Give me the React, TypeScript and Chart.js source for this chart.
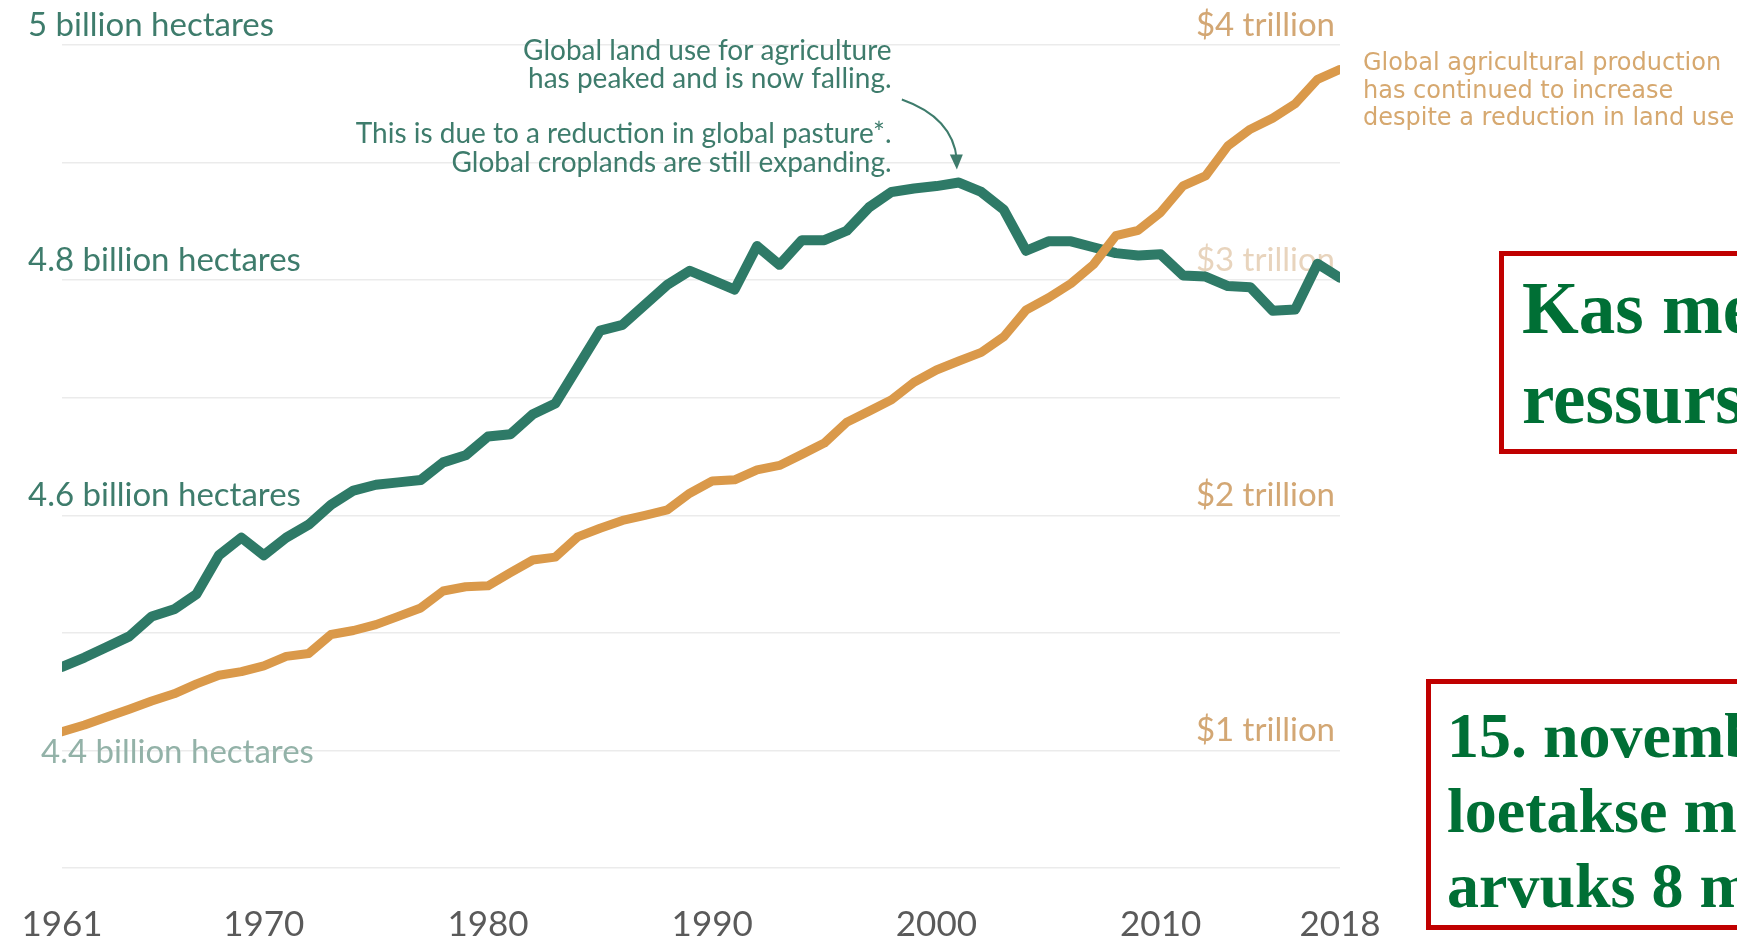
import React, { useEffect, useRef } from "react";
import { Chart, registerables } from "chart.js";

Chart.register(...registerables);

// ---------- DATA ----------
const years = [
  1961, 1962, 1963, 1964, 1965, 1966, 1967, 1968, 1969, 1970,
  1971, 1972, 1973, 1974, 1975, 1976, 1977, 1978, 1979, 1980,
  1981, 1982, 1983, 1984, 1985, 1986, 1987, 1988, 1989, 1990,
  1991, 1992, 1993, 1994, 1995, 1996, 1997, 1998, 1999, 2000,
  2001, 2002, 2003, 2004, 2005, 2006, 2007, 2008, 2009, 2010,
  2011, 2012, 2013, 2014, 2015, 2016, 2017, 2018,
];

// Global land use for agriculture (billion hectares)
const landUse = [
  4.471, 4.479, 4.488, 4.497, 4.514, 4.52, 4.533, 4.566, 4.581, 4.566,
  4.581, 4.592, 4.609, 4.621, 4.626, 4.628, 4.63, 4.645, 4.651, 4.667,
  4.669, 4.686, 4.695, 4.726, 4.757, 4.762, 4.779, 4.796, 4.808, 4.8,
  4.792, 4.829, 4.813, 4.834, 4.834, 4.842, 4.862, 4.875, 4.878, 4.88,
  4.883, 4.875, 4.86, 4.825, 4.833, 4.833, 4.828, 4.823, 4.821, 4.822,
  4.804, 4.803, 4.795, 4.794, 4.774, 4.775, 4.814, 4.802,
];

// Global agricultural production (trillion $)
const production = [
  1.08, 1.108, 1.142, 1.175, 1.21, 1.241, 1.283, 1.32, 1.335, 1.36,
  1.4, 1.412, 1.493, 1.51, 1.535, 1.57, 1.606, 1.678, 1.696, 1.7,
  1.756, 1.81, 1.822, 1.908, 1.945, 1.978, 2.0, 2.023, 2.094, 2.146,
  2.151, 2.193, 2.212, 2.259, 2.307, 2.396, 2.443, 2.491, 2.566, 2.618,
  2.656, 2.693, 2.759, 2.873, 2.925, 2.986, 3.066, 3.189, 3.212, 3.288,
  3.401, 3.443, 3.571, 3.642, 3.689, 3.75, 3.854, 3.896,
];

const xTickYears = [1961, 1970, 1980, 1990, 2000, 2010, 2018];

const leftTickValues = [5.0, 4.8, 4.6, 4.4];
const leftTickLabels = [
  "5 billion hectares",
  "4.8 billion hectares",
  "4.6 billion hectares",
  "4.4 billion hectares",
];

const rightTickValues = [4, 3, 2, 1];
const rightTickLabels = ["$4 trillion", "$3 trillion", "$2 trillion", "$1 trillion"];

const peakYear = 2001;

const landNoteLines = [
  "Global land use for agriculture",
  "has peaked and is now falling.",
];
const pastureNoteLines = [
  "This is due to a reduction in global pasture*.",
  "Global croplands are still expanding.",
];
const productionNoteLines = [
  "Global agricultural production",
  "has continued to increase",
  "despite a reduction in land use",
];

const box1Lines = ["Kas meil jätkub", "ressursse?"];
const box2Lines = ["15. novembril 2022", "loetakse maailma rahva-", "arvuks 8 miljardit."];

// ---------- STYLES ----------
const GREEN = "#2e7a67";
const ORANGE = "#da994a";
const GREEN_TEXT = "#3e7c6c";
const rightLabelColors = ["#d3a774", "#e8d4bd", "#d3a774", "#d3a774"];
const leftLabelColors = [GREEN_TEXT, GREEN_TEXT, GREEN_TEXT, "#93b2a8"];

const labelsPlugin = {
  id: "owidLabels",
  beforeDatasetsDraw(chart: any) {
    const { ctx, chartArea, scales } = chart;
    const y = scales.y;
    const y1 = scales.y1;
    ctx.save();
    ctx.font = "33px Lato";
    ctx.textBaseline = "alphabetic";
    leftTickValues.forEach((v, i) => {
      const py = y.getPixelForValue(v);
      const last = i === leftTickValues.length - 1;
      ctx.fillStyle = leftLabelColors[i];
      ctx.textAlign = "left";
      ctx.fillText(
        leftTickLabels[i],
        chartArea.left - 34 + (last ? 13 : 0),
        last ? py + 13 : py - 9
      );
    });
    rightTickValues.forEach((v, i) => {
      const py = y1.getPixelForValue(v);
      ctx.fillStyle = rightLabelColors[i];
      ctx.textAlign = "right";
      ctx.fillText(rightTickLabels[i], chartArea.right - 5, py - 9);
    });
    ctx.restore();
  },
  afterDatasetsDraw(chart: any) {
    const { ctx, chartArea, scales } = chart;
    const x = scales.x;
    const y = scales.y;
    const top = y.getPixelForValue(5.0);
    ctx.save();
    // land-use notes
    ctx.font = "28px Lato";
    ctx.fillStyle = GREEN_TEXT;
    ctx.textAlign = "right";
    ctx.textBaseline = "alphabetic";
    const noteX = x.getPixelForValue(1998);
    landNoteLines.forEach((t, i) => ctx.fillText(t, noteX, top + 15 + i * 27.5));
    pastureNoteLines.forEach((t, i) => ctx.fillText(t, noteX, top + 98 + i * 29));

    // arrow to the peak
    const pi = years.indexOf(peakYear);
    const tipX = x.getPixelForValue(peakYear) - 2;
    const tipY = y.getPixelForValue(landUse[pi]) - 13;
    const sx = tipX - 55;
    const sy = tipY - 70;
    ctx.strokeStyle = GREEN_TEXT;
    ctx.fillStyle = GREEN_TEXT;
    ctx.lineWidth = 2;
    ctx.beginPath();
    ctx.moveTo(sx, sy);
    ctx.quadraticCurveTo(tipX - 4, sy + 18, tipX, tipY - 10);
    ctx.stroke();
    ctx.beginPath();
    ctx.moveTo(tipX, tipY);
    ctx.lineTo(tipX - 7, tipY - 15);
    ctx.lineTo(tipX + 6, tipY - 15);
    ctx.closePath();
    ctx.fill();

    // production note
    ctx.font = "24px 'DejaVu Sans'";
    ctx.fillStyle = "#d6a86f";
    ctx.textAlign = "left";
    const px = chartArea.right + 23;
    productionNoteLines.forEach((t, i) => ctx.fillText(t, px, top + 25 + i * 27.5));
    ctx.restore();
  },
};

export default function App() {
  const canvasRef = useRef<HTMLCanvasElement | null>(null);

  useEffect(() => {
    const canvas = canvasRef.current;
    if (!canvas) return;
    const chart = new Chart(canvas, {
      type: "line",
      data: {
        datasets: [
          {
            label: "Global agricultural production",
            data: years.map((yr, i) => ({ x: yr, y: production[i] })),
            yAxisID: "y1",
            borderColor: ORANGE,
            borderWidth: 9,
            pointRadius: 0,
            borderCapStyle: "round",
            borderJoinStyle: "round",
            tension: 0,
          },
          {
            label: "Global land use for agriculture",
            data: years.map((yr, i) => ({ x: yr, y: landUse[i] })),
            yAxisID: "y",
            borderColor: GREEN,
            borderWidth: 10,
            pointRadius: 0,
            borderCapStyle: "round",
            borderJoinStyle: "round",
            tension: 0,
          },
        ],
      },
      options: {
        responsive: false,
        animation: false,
        events: [],
        layout: { padding: { left: 62, right: 397, top: 45, bottom: 14 } },
        plugins: {
          legend: { display: false },
          tooltip: { enabled: false },
        },
        scales: {
          x: {
            type: "linear",
            min: 1961,
            max: 2018,
            afterBuildTicks: (s: any) => {
              s.ticks = xTickYears.map((v) => ({ value: v }));
            },
            afterFit: (s: any) => {
              s.paddingLeft = 0;
              s.paddingRight = 0;
            },
            ticks: {
              autoSkip: false,
              maxRotation: 0,
              padding: 36,
              color: "#5a5a5a",
              font: { family: "Lato", size: 35 },
              callback: (v: any) => String(v),
            },
            grid: { display: false, drawTicks: false },
            border: { display: false },
          },
          y: {
            type: "linear",
            position: "left",
            min: 4.3,
            max: 5.0,
            ticks: { stepSize: 0.1, display: false },
            grid: { color: "#ebebeb", lineWidth: 1.5, drawTicks: false },
            border: { display: false },
          },
          y1: {
            type: "linear",
            position: "right",
            min: 0.5,
            max: 4.0,
            display: false,
            grid: { display: false },
          },
        },
      },
      plugins: [labelsPlugin],
    });
    return () => chart.destroy();
  }, []);

  const boxText: React.CSSProperties = {
    fontFamily: "'Liberation Serif', 'Times New Roman', serif",
    fontWeight: "bold",
    color: "#006f35",
    whiteSpace: "nowrap",
  };

  return (
    <div
      style={{
        position: "fixed",
        left: 0,
        top: 0,
        width: 1737,
        height: 942,
        overflow: "hidden",
        background: "#ffffff",
      }}
    >
      <canvas
        ref={canvasRef}
        width={1737}
        height={996}
        style={{ position: "absolute", left: 0, top: 0, width: 1737, height: 996 }}
      />
      <div
        style={{
          ...boxText,
          position: "absolute",
          left: 1499,
          top: 251,
          width: 700,
          height: 203,
          boxSizing: "border-box",
          border: "5px solid #c00000",
          paddingLeft: 18,
          paddingTop: 8,
          fontSize: 73,
          lineHeight: "90px",
          background: "#ffffff",
        }}
      >
        {box1Lines.map((t, i) => (
          <div key={i}>{t}</div>
        ))}
      </div>
      <div
        style={{
          ...boxText,
          position: "absolute",
          left: 1426,
          top: 679,
          width: 800,
          height: 251,
          boxSizing: "border-box",
          border: "5px solid #c00000",
          paddingLeft: 16,
          paddingTop: 14,
          fontSize: 64,
          lineHeight: "75px",
          background: "#ffffff",
        }}
      >
        {box2Lines.map((t, i) => (
          <div key={i}>{t}</div>
        ))}
      </div>
    </div>
  );
}
